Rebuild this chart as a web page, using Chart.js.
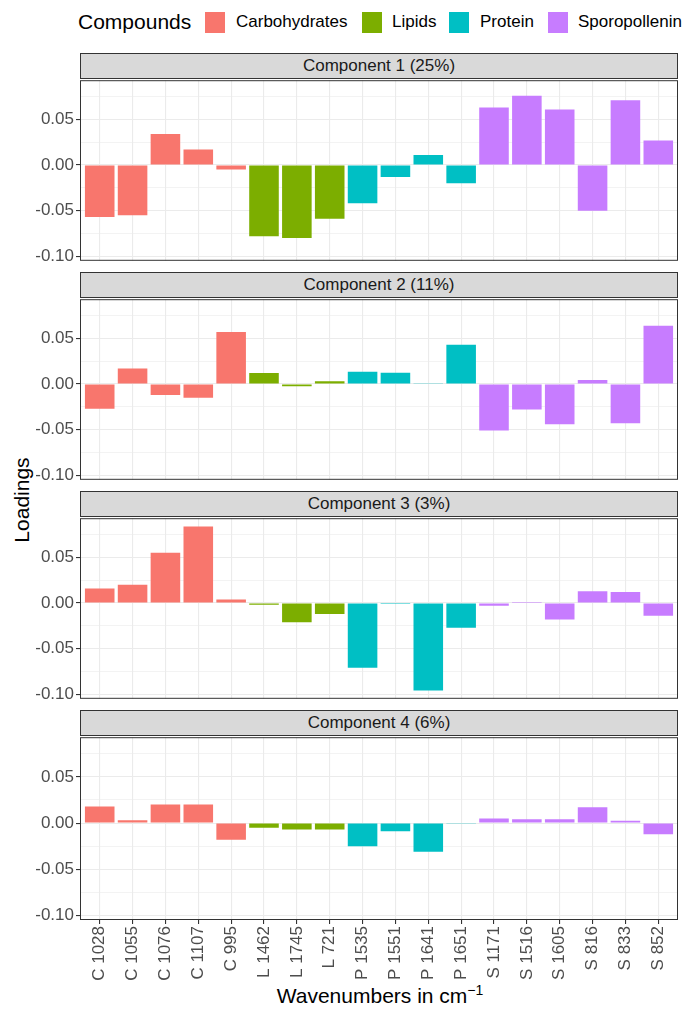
<!DOCTYPE html>
<html>
<head>
<meta charset="utf-8">
<script src="https://cdn.jsdelivr.net/npm/chart.js@4.4.0/dist/chart.umd.min.js"></script>
<style>
  body { margin: 0; background: #fff; font-family: "Liberation Sans", Arial, sans-serif; }
  #wrap { position: relative; width: 683px; height: 1012px; overflow: hidden; }
  .abs { position: absolute; }
  canvas.panel { position: absolute; left: 0; }
  .strip { position: absolute; left: 80px; width: 596px; height: 24px; background: #D9D9D9;
           border: 1px solid #333; text-align: center; line-height: 24px; font-size: 17px; color: #1A1A1A; }
  .key { position: absolute; width: 20px; height: 21px; top: 12px; }
  .ltxt { position: absolute; top: 10px; font-size: 17px; color: #000; line-height: 24px; }
</style>
</head>
<body>
<div id="wrap">
  <div class="abs" style="left:78px; top:8px; font-size:21px; line-height:28px;">Compounds</div>
  <div class="key" style="left:205px; background:#F8766D"></div><div class="ltxt" style="left:236px">Carbohydrates</div>
  <div class="key" style="left:362px; background:#7CAE00"></div><div class="ltxt" style="left:392px">Lipids</div>
  <div class="key" style="left:449px; background:#00BFC4"></div><div class="ltxt" style="left:480px">Protein</div>
  <div class="key" style="left:548px; background:#C77CFF"></div><div class="ltxt" style="left:578px">Sporopollenin</div>

  <div class="abs" style="left:-28px; top:488px; width:100px; text-align:center; font-size:21px; transform:rotate(-90deg);">Loadings</div>
  <div class="abs" style="left:180px; top:984px; width:400px; text-align:center; font-size:21px;">Wavenumbers in cm<sup style="font-size:14px; vertical-align: 8px; line-height:0;">−1</sup></div>
</div>

<script>
const categories = ['C 1028', 'C 1055', 'C 1076', 'C 1107', 'C 995', 'L 1462', 'L 1745', 'L 721',
  'P 1535', 'P 1551', 'P 1641', 'P 1651', 'S 1171', 'S 1516', 'S 1605', 'S 816', 'S 833', 'S 852'];

const componentTitles = ['Component 1 (25%)', 'Component 2 (11%)', 'Component 3 (3%)', 'Component 4 (6%)'];

const comp1 = [-0.057, -0.055, 0.034, 0.017, -0.005, -0.078, -0.080, -0.059,
  -0.042, -0.013, 0.011, -0.020, 0.063, 0.076, 0.061, -0.050, 0.071, 0.027];
const comp2 = [-0.027, 0.017, -0.012, -0.015, 0.057, 0.012, -0.0025, 0.003,
  0.0135, 0.0125, 0.0003, 0.043, -0.051, -0.028, -0.044, 0.0045, -0.043, 0.064];
const comp3 = [0.016, 0.020, 0.055, 0.084, 0.004, -0.002, -0.021, -0.012,
  -0.071, -0.001, -0.096, -0.027, -0.003, 0.001, -0.018, 0.013, 0.012, -0.014];
const comp4 = [0.018, 0.003, 0.020, 0.020, -0.018, -0.005, -0.007, -0.007,
  -0.025, -0.009, -0.031, -0.0008, 0.005, 0.004, 0.004, 0.017, 0.0025, -0.012];

const yTicks = [-0.1, -0.075, -0.05, -0.025, 0, 0.025, 0.05, 0.075];

const groupColors = { C: '#F8766D', L: '#7CAE00', P: '#00BFC4', S: '#C77CFF' };

const isMajor = v => Math.abs(Math.round(v * 1000) % 50) === 0;

const borderPlugin = {
  id: 'panelBorder',
  afterDraw(chart) {
    const a = chart.chartArea, c = chart.ctx;
    c.save();
    c.strokeStyle = '#333';
    c.lineWidth = 1;
    c.strokeRect(a.left + 0.5, a.top + 0.5, a.right - a.left - 1, a.bottom - a.top - 1);
    c.restore();
  }
};

const wrap = document.getElementById('wrap');
const allData = [comp1, comp2, comp3, comp4];
const pad = 10, plotH = 185;

allData.forEach((vals, i) => {
  const stripTop = 53 + i * 219;
  const plotTop = stripTop + 25;
  const last = i === 3;

  const strip = document.createElement('div');
  strip.className = 'strip';
  strip.style.top = stripTop + 'px';
  strip.textContent = componentTitles[i];
  wrap.appendChild(strip);

  const cv = document.createElement('canvas');
  cv.className = 'panel';
  const h = pad + plotH + (last ? 66 : pad);
  cv.style.top = (plotTop - pad) + 'px';
  cv.style.width = '683px';
  cv.style.height = h + 'px';
  cv.width = 683; cv.height = h;
  wrap.appendChild(cv);

  new Chart(cv, {
    type: 'bar',
    data: {
      datasets: [{
        data: vals.map((v, k) => ({ x: k, y: v })),
        backgroundColor: categories.map(c => groupColors[c[0]]),
        borderWidth: 0,
        barPercentage: 0.9,
        categoryPercentage: 1.0
      }]
    },
    options: {
      responsive: false,
      animation: false,
      layout: { padding: { top: pad, bottom: last ? 0 : pad, left: 0, right: 5 } },
      plugins: { legend: { display: false }, tooltip: { enabled: false } },
      scales: {
        x: {
          type: 'linear',
          min: -0.6,
          max: categories.length - 0.4,
          offset: false,
          afterBuildTicks: s => { s.ticks = categories.map((c, k) => ({ value: k })); },
          grid: {
            offset: false,
            color: '#EBEBEB',
            lineWidth: 1.1,
            drawTicks: last,
            tickLength: 4,
            tickColor: '#333'
          },
          border: { display: false },
          ticks: {
            display: last,
            autoSkip: false,
            minRotation: 90,
            maxRotation: 90,
            padding: 2,
            color: '#4D4D4D',
            font: { family: 'Liberation Sans', size: 17 },
            callback: v => categories[v]
          },
          afterFit: s => { s.height = last ? 66 : 0; }
        },
        y: {
          min: -0.105,
          max: 0.093,
          afterBuildTicks: s => { s.ticks = yTicks.map(v => ({ value: v })); },
          afterFit: s => { s.width = 80; },
          grid: {
            color: '#EBEBEB',
            lineWidth: ctx => (ctx.tick && isMajor(ctx.tick.value)) ? 1.1 : 0.6,
            tickLength: 4,
            tickColor: ctx => (ctx.tick && isMajor(ctx.tick.value)) ? '#333' : 'rgba(0,0,0,0)'
          },
          border: { display: false },
          ticks: {
            padding: 2,
            color: '#4D4D4D',
            font: { family: 'Liberation Sans', size: 17 },
            callback: v => isMajor(v) ? v.toFixed(2) : ''
          }
        }
      }
    },
    plugins: [borderPlugin]
  });
});
</script>
</body>
</html>
